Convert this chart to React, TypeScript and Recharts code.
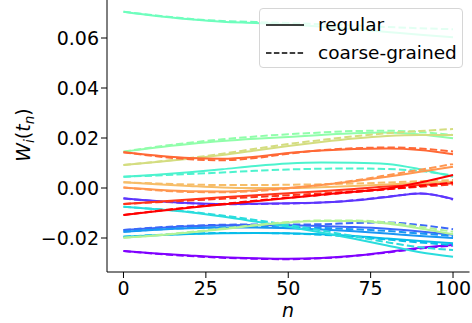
import React from "react";
import { LineChart, Line, XAxis, YAxis } from "recharts";

// sample points along n
const steps = [0, 10, 20, 30, 40, 50, 60, 70, 80, 90, 100];

// rainbow colormap, 16 components
const colors = [
  "#8000ff", "#5d35fd", "#3b68f9", "#1996f3", "#08bde9", "#2adddd", "#4df3ce", "#6efebd",
  "#90feaa", "#b3f396", "#d4dd80", "#f6bd68", "#ff964f", "#ff6835", "#ff351b", "#ff0000",
];

// W_i(t_n), regular
const regular = [
  [-0.0252, -0.0262, -0.027, -0.0277, -0.0281, -0.0283, -0.028, -0.0271, -0.0256, -0.0239, -0.0228],
  [-0.0041, -0.0052, -0.006, -0.0064, -0.0063, -0.0061, -0.0058, -0.005, -0.0036, -0.0022, -0.0044],
  [-0.0168, -0.016, -0.0153, -0.0149, -0.0148, -0.0149, -0.0152, -0.0156, -0.0163, -0.0174, -0.0187],
  [-0.0175, -0.0167, -0.0161, -0.0158, -0.0158, -0.0161, -0.0166, -0.0173, -0.0182, -0.0192, -0.02],
  [-0.0195, -0.0189, -0.0184, -0.0181, -0.018, -0.0181, -0.0185, -0.0192, -0.0202, -0.0212, -0.0221],
  [-0.0075, -0.0085, -0.0097, -0.0114, -0.0134, -0.0155, -0.0178, -0.0203, -0.023, -0.0257, -0.0275],
  [0.0045, 0.0053, 0.0063, 0.0075, 0.0088, 0.0098, 0.0102, 0.0101, 0.0096, 0.0075, 0.0045],
  [0.0705, 0.0688, 0.0675, 0.0665, 0.066, 0.0654, 0.0645, 0.0635, 0.0624, 0.0613, 0.0603],
  [0.0145, 0.0162, 0.0176, 0.0188, 0.0197, 0.0204, 0.0212, 0.0219, 0.0222, 0.0214, 0.0199],
  [-0.0199, -0.019, -0.0178, -0.0165, -0.015, -0.0138, -0.0132, -0.0132, -0.0142, -0.0162, -0.0185],
  [0.0092, 0.0104, 0.0117, 0.0132, 0.015, 0.0168, 0.0184, 0.0198, 0.0208, 0.0212, 0.0212],
  [0.0023, 0.0015, 0.0008, 0.0002, 0.0, 0.0, 0.0003, 0.0008, 0.0014, 0.002, 0.0025],
  [0.0002, -0.0007, -0.0013, -0.0014, -0.0009, 0.0, 0.0012, 0.0027, 0.0045, 0.0065, 0.0085],
  [0.0143, 0.013, 0.012, 0.0117, 0.0125, 0.014, 0.015, 0.0156, 0.0158, 0.0152, 0.0135],
  [-0.0064, -0.0055, -0.0046, -0.0037, -0.0029, -0.0021, -0.0013, -0.0004, 0.0006, 0.0012, 0.0019],
  [-0.0108, -0.0093, -0.0079, -0.0066, -0.0053, -0.004, -0.0027, -0.0015, -0.0002, 0.0022, 0.0052],
];

// W_i(t_n), coarse-grained
const coarse = [
  [-0.0252, -0.0263, -0.0272, -0.0279, -0.0283, -0.0285, -0.0281, -0.0272, -0.0258, -0.0242, -0.023],
  [-0.0042, -0.0053, -0.0061, -0.0065, -0.0064, -0.0062, -0.0058, -0.0049, -0.0035, -0.0022, -0.0046],
  [-0.0168, -0.0158, -0.0151, -0.0147, -0.0146, -0.0146, -0.0145, -0.014, -0.0138, -0.0148, -0.0165],
  [-0.0175, -0.0166, -0.016, -0.0157, -0.0156, -0.0157, -0.016, -0.0165, -0.0172, -0.0182, -0.0192],
  [-0.0195, -0.0188, -0.0183, -0.018, -0.018, -0.0182, -0.0187, -0.0195, -0.0206, -0.0218, -0.0228],
  [-0.0075, -0.0084, -0.0095, -0.011, -0.0128, -0.0148, -0.017, -0.0193, -0.0217, -0.0237, -0.0248],
  [0.0045, 0.005, 0.0056, 0.0062, 0.0069, 0.0074, 0.0077, 0.0078, 0.0076, 0.0068, 0.005],
  [0.0705, 0.069, 0.0677, 0.0668, 0.0664, 0.066, 0.0655, 0.065, 0.0644, 0.0639, 0.0635],
  [0.0145, 0.0165, 0.0181, 0.0195, 0.0206, 0.0215, 0.0222, 0.0228, 0.0229, 0.0224, 0.0212],
  [-0.0199, -0.0189, -0.0176, -0.0162, -0.0148, -0.0136, -0.013, -0.013, -0.0138, -0.0155, -0.0175],
  [0.0092, 0.0105, 0.012, 0.0137, 0.0157, 0.0176, 0.0192, 0.0207, 0.0219, 0.0228, 0.0236],
  [0.0023, 0.0018, 0.0014, 0.0012, 0.0012, 0.0013, 0.0015, 0.0018, 0.0022, 0.0027, 0.0032],
  [0.0002, -0.0009, -0.0016, -0.0017, -0.0012, -0.0002, 0.0012, 0.003, 0.0051, 0.0073, 0.0096],
  [0.0143, 0.0127, 0.0115, 0.0111, 0.012, 0.0137, 0.0151, 0.0159, 0.0162, 0.0158, 0.0146],
  [-0.0064, -0.0057, -0.005, -0.0043, -0.0036, -0.0029, -0.0022, -0.0013, -0.0004, 0.0005, 0.0014],
  [-0.0108, -0.0092, -0.0077, -0.0064, -0.0051, -0.0039, -0.0028, -0.0016, -0.0005, 0.0008, 0.0022],
];

const xTicks = [0, 25, 50, 75, 100];
const yTicks = [-0.02, 0, 0.02, 0.04, 0.06];

const data = steps.map((n, k) => {
  const row: Record<string, number> = { n };
  regular.forEach((s, i) => (row[`r${i}`] = s[k]));
  coarse.forEach((s, i) => (row[`c${i}`] = s[k]));
  return row;
});

const FONT = "DejaVu Sans";
const fmtY = (v: number) => (v < 0 ? "\u2212" : "") + Math.abs(v).toFixed(2);

const YLabel = () => (
  <text transform="translate(29.5,135) rotate(-90)" textAnchor="middle" fontFamily={FONT} fontSize={19} fill="#000">
    <tspan fontStyle="italic">W</tspan>
    <tspan fontStyle="italic" fontSize={13.5} dy={4}>i</tspan>
    <tspan dy={-4}>(</tspan>
    <tspan fontStyle="italic">t</tspan>
    <tspan fontStyle="italic" fontSize={13.5} dy={4}>n</tspan>
    <tspan dy={-4}>)</tspan>
  </text>
);

const XLabel = () => (
  <text x={288} y={317} textAnchor="middle" fontFamily={FONT} fontSize={19} fontStyle="italic" fill="#000">
    n
  </text>
);

export default function App() {
  return (
    <div style={{ position: "absolute", left: 0, top: 0, width: 472, height: 323, overflow: "hidden", background: "#fff" }}>
      <LineChart width={472} height={323} data={data} margin={{ top: 0, right: 2.5, bottom: 0, left: 17 }}>
        <XAxis
          dataKey="n"
          type="number"
          domain={[-5, 105]}
          ticks={xTicks}
          height={51}
          tickSize={6}
          tickMargin={3.5}
          stroke="#000"
          tick={{ fontSize: 19, fill: "#000", fontFamily: FONT }}
          label={{ content: () => <XLabel /> }}
        />
        <YAxis
          type="number"
          domain={[-0.0336, 0.0752]}
          allowDataOverflow
          ticks={yTicks}
          width={90}
          tickSize={6}
          tickMargin={2}
          stroke="#000"
          tickFormatter={fmtY}
          tick={{ fontSize: 19, fill: "#000", fontFamily: FONT }}
          label={{ content: () => <YLabel /> }}
        />
        {colors.flatMap((c, i) => [
          <Line key={`r${i}`} type="monotone" dataKey={`r${i}`} stroke={c} strokeWidth={2} dot={false} isAnimationActive={false} />,
          <Line key={`c${i}`} type="monotone" dataKey={`c${i}`} stroke={c} strokeWidth={2} strokeDasharray="7.4 3.2" dot={false} isAnimationActive={false} />,
        ])}
      </LineChart>
      <div
        style={{
          position: "absolute",
          left: 259,
          top: 8,
          width: 204,
          height: 60,
          boxSizing: "border-box",
          background: "rgba(255,255,255,0.8)",
          border: "1px solid #d6d6d6",
          borderRadius: 4,
          fontFamily: FONT,
          fontSize: 18.5,
          color: "#000",
        }}
      >
        {[
          { label: "regular", cy: 16, dash: undefined },
          { label: "coarse-grained", cy: 44, dash: "5.5 2.4" },
        ].map((r) => (
          <React.Fragment key={r.label}>
            <svg style={{ position: "absolute", left: 6, top: r.cy - 3 }} width={38} height={6}>
              <line x1={0} y1={3} x2={38} y2={3} stroke="#000" strokeWidth={1.5} strokeDasharray={r.dash} />
            </svg>
            <div style={{ position: "absolute", left: 58, top: r.cy - 12, height: 24, lineHeight: "24px", whiteSpace: "nowrap" }}>
              {r.label}
            </div>
          </React.Fragment>
        ))}
      </div>
    </div>
  );
}
